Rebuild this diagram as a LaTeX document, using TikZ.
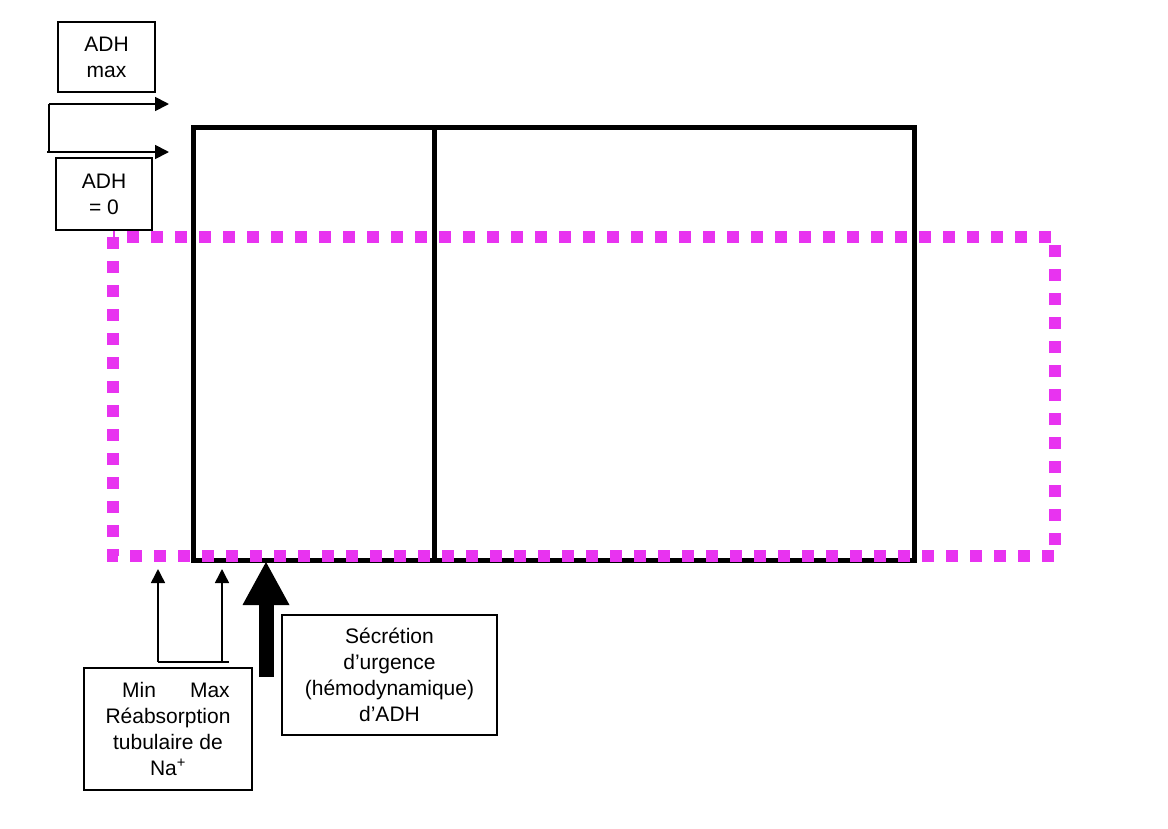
\documentclass[tikz,border=0pt]{standalone}
\usepackage{fontspec}
\setmainfont{Liberation Sans}
\usetikzlibrary{arrows.meta}
\definecolor{dashmag}{RGB}{232,51,240}
\tikzset{>=Triangle,every node/.style={font=\fontsize{21}{26}\selectfont},box/.style={draw,line width=1.5pt,align=center,inner sep=0pt},wall/.style={line width=5pt},flow/.style={line width=1.8pt,-{Triangle[length=14pt,width=14pt]}},limit/.style={dashmag,line width=12pt,dash pattern=on 12pt off 12pt}}

\begin{document}
\begin{tikzpicture}[x=1pt,y=-1pt]
\useasboundingbox (0,0) rectangle (1168,828);
\node[box,minimum width=97pt,minimum height=70pt] (admax) at (106.5,57){ADH\\max};
\node[box,minimum width=96pt,minimum height=72pt] (adzero) at (104,194){ADH\\= 0};
\coordinate (lpa) at (49,104);\coordinate (lpb) at (47,152);\coordinate (ina) at (169,104);\coordinate (inb) at (169,152);
\draw[line width=1.8pt] (lpa) -- (lpa|-lpb) -- (lpb);\draw[flow] (lpa) -- (ina);\draw[flow] (lpb) -- (inb);
\draw[wall] (193,127) rectangle (914,560);\draw[wall] (434,127) -- (434,560);
\draw[limit] (113,237) rectangle (1055,556);
\node[box,minimum width=168pt,minimum height=122pt] (reab) at (168,729){\hspace*{16pt}Min\hspace{34pt}Max\\Réabsorption\\tubulaire de\\Na\textsuperscript{+}};
\node[box,minimum width=215pt,minimum height=120pt] (urgence) at (389.5,675){Sécrétion\\d’urgence\\(hémodynamique)\\d’ADH};
\coordinate (mn) at (158,662);\coordinate (mx) at (222,662);\coordinate (mnt) at (158,569);\coordinate (mxt) at (222,569);
\draw[line width=1.5pt] (mn) -- (229,662);\draw[flow,line width=1.5pt] (mn) -- (mnt);\draw[flow,line width=1.5pt] (mx) -- (mxt);
\coordinate (shaft) at (266,677);\coordinate (tip) at (266,562);
\draw[line width=15pt,-{Triangle[length=43pt,width=47pt,line width=0pt]}] (shaft) -- (tip);
\end{tikzpicture}
\end{document}
